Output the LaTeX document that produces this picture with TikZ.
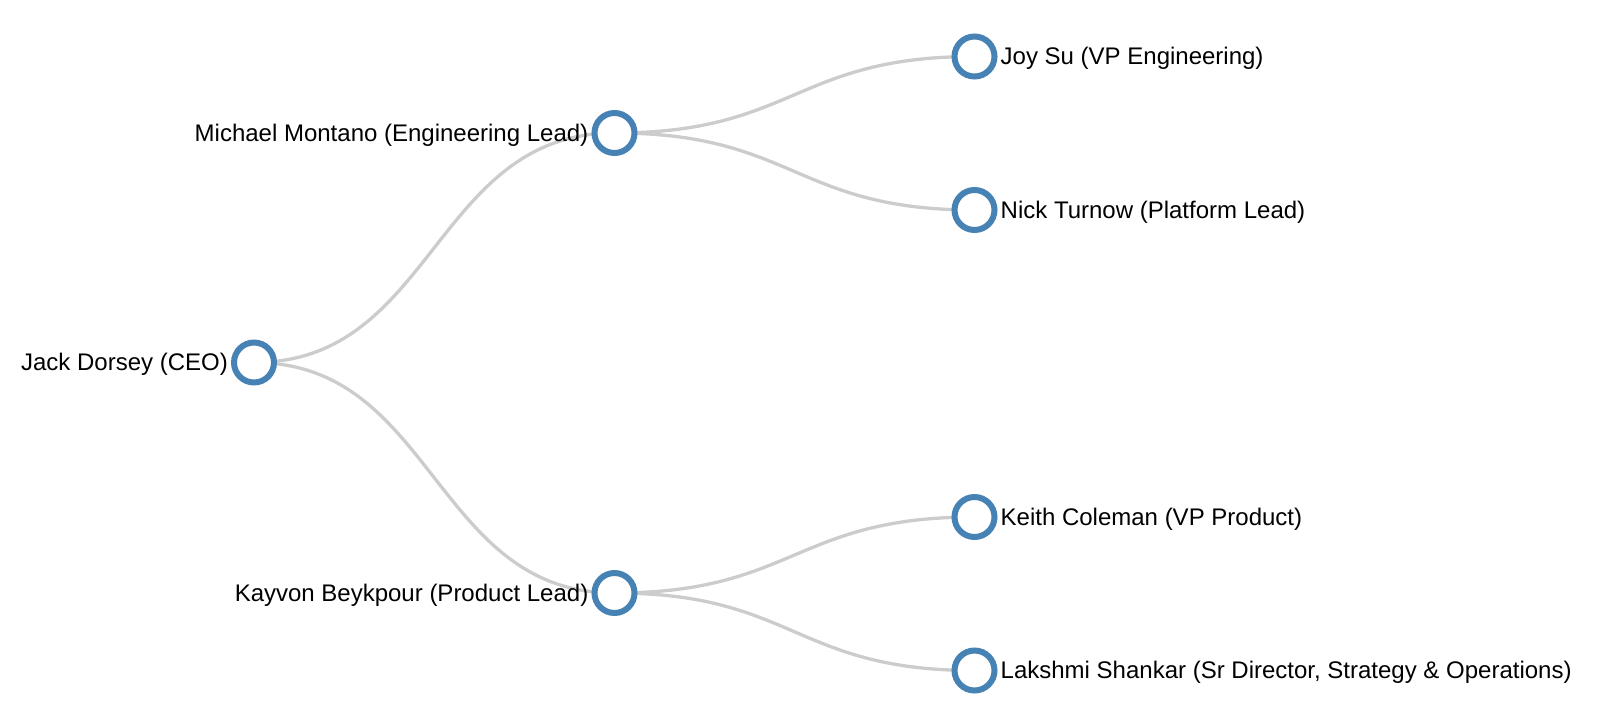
\documentclass[tikz,border=0pt]{standalone}
\usepackage{fontspec}
\setmainfont{Liberation Sans}
\usetikzlibrary{backgrounds,calc}
\definecolor{ring}{HTML}{4682B4}
\definecolor{linkgray}{HTML}{CCCCCC}
\tikzset{
  person/.style={circle, draw=ring, line width=6pt, fill=white, minimum size=40pt, inner sep=0pt},
  lbl/.style={inner sep=0pt, font=\fontsize{24pt}{28pt}\selectfont, text=black},
  link/.style={draw=linkgray, line width=3.3pt}
}
\newcommand\lnk[2]{\draw[link] let \p1=(#1.center), \p2=(#2.center) in (\p1) .. controls ({0.5*\x1+0.5*\x2},\y1) and ({0.5*\x1+0.5*\x2},\y2) .. (\p2);}
\begin{document}
\begin{tikzpicture}[x=1pt,y=-1pt]
\useasboundingbox (0,0) rectangle (1606,726);
\node[person] (root) at (254,362.5) {};
\node[person] (eng) at (614.5,133) {};
\node[person] (prod) at (614.5,593) {};
\node[person] (joy) at (974.5,56.5) {};
\node[person] (nick) at (974.5,210) {};
\node[person] (keith) at (974.5,517) {};
\node[person] (lak) at (974.5,670.5) {};
\begin{pgfonlayer}{background}
\lnk{root}{eng}
\lnk{root}{prod}
\lnk{eng}{joy}
\lnk{eng}{nick}
\lnk{prod}{keith}
\lnk{prod}{lak}
\end{pgfonlayer}
\node[lbl, anchor=base east] (rootl) at ([xshift=-26pt, yshift=-8.4pt]root.center) {Jack Dorsey (CEO)};
\node[lbl, anchor=base east] (engl) at ([xshift=-26pt, yshift=-8.4pt]eng.center) {Michael Montano (Engineering Lead)};
\node[lbl, anchor=base east] (prodl) at ([xshift=-26pt, yshift=-8.4pt]prod.center) {Kayvon Beykpour (Product Lead)};
\node[lbl, anchor=base west] (joyl) at ([xshift=26pt, yshift=-8.4pt]joy.center) {Joy Su (VP Engineering)};
\node[lbl, anchor=base west] (nickl) at ([xshift=26pt, yshift=-8.4pt]nick.center) {Nick Turnow (Platform Lead)};
\node[lbl, anchor=base west] (keithl) at ([xshift=26pt, yshift=-8.4pt]keith.center) {Keith Coleman (VP Product)};
\node[lbl, anchor=base west] (lakl) at ([xshift=26pt, yshift=-8.4pt]lak.center) {Lakshmi Shankar (Sr Director, Strategy \& Operations)};
\end{tikzpicture}
\end{document}
